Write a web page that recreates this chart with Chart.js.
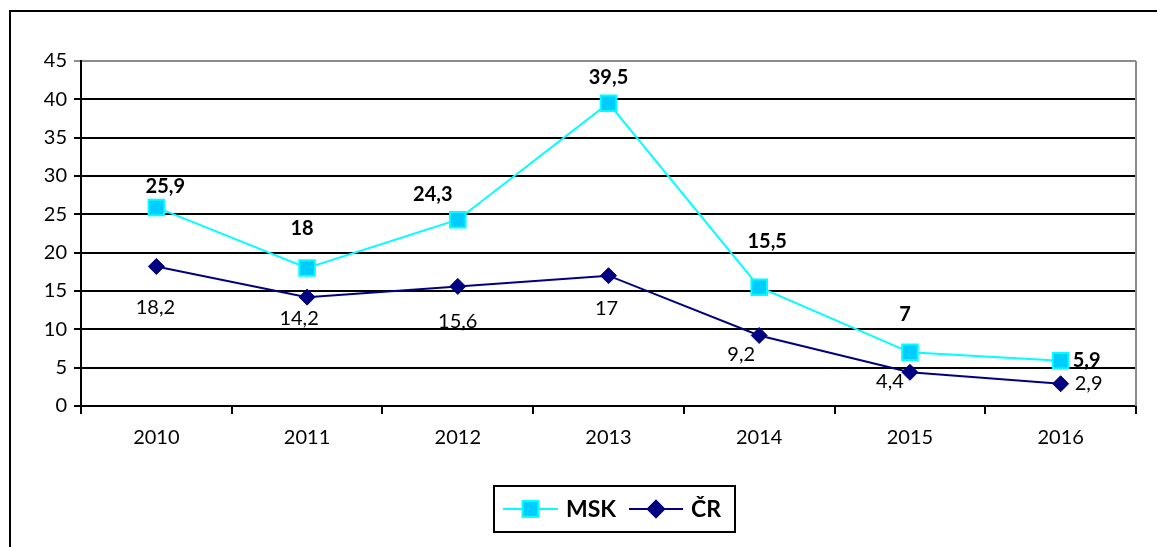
<!DOCTYPE html>
<html>
<head>
<meta charset="utf-8">
<script src="https://cdn.jsdelivr.net/npm/chart.js@4/dist/chart.umd.min.js"></script>
<style>
  html, body { margin: 0; padding: 0; background: #fff; }
  #wrap { width: 1157px; height: 547px; }
</style>
</head>
<body>
<div id="wrap"><canvas id="chart" width="1157" height="547"></canvas></div>
<script>
// Data
const years = ['2010', '2011', '2012', '2013', '2014', '2015', '2016'];
const mskValues = [25.9, 18, 24.3, 39.5, 15.5, 7, 5.9];
const crValues = [18.2, 14.2, 15.6, 17, 9.2, 4.4, 2.9];
const seriesNames = ['MSK', 'ČR'];

// Label placement (pixel nudges from each point)
const mskLabelOffsets = [[9, -21], [-5, -39], [-25, -25], [0, -26], [8, -46], [-5, -38], [26, 0]];
const crLabelOffsets = [[-1, 41], [-8, 21], [0, 35], [-2, 33], [-18, 19], [-20, 9], [28, 0]];

const FONT = 'Lato, "Open Sans", sans-serif';

function fmt(v) {
    return String(v).replace('.', ',');
}

// Outer frame, plot border, point labels and legend
const decorPlugin = {
    id: 'decor',
    beforeDraw(chart) {
        const ctx = chart.ctx;
        ctx.save();
        ctx.fillStyle = '#fff';
        ctx.fillRect(0, 0, chart.width, chart.height);
        ctx.strokeStyle = '#000';
        ctx.lineWidth = 2;
        ctx.strokeRect(10, 11, 1300, 700);
        ctx.restore();
    },
    afterDatasetsDraw(chart) {
        const ctx = chart.ctx;
        const area = chart.chartArea;
        ctx.save();
        // right edge of plot area
        ctx.strokeStyle = '#8c8c8c';
        ctx.lineWidth = 2;
        ctx.beginPath();
        ctx.moveTo(area.right, area.top);
        ctx.lineTo(area.right, area.bottom);
        ctx.stroke();

        // point labels
        ctx.textAlign = 'center';
        ctx.textBaseline = 'middle';
        ctx.fillStyle = '#000';
        const offs = [mskLabelOffsets, crLabelOffsets];
        chart.data.datasets.forEach((ds, di) => {
            ctx.font = (di === 0 ? 'bold ' : '') + '20px ' + FONT;
            chart.getDatasetMeta(di).data.forEach((pt, i) => {
                const o = offs[di][i];
                ctx.fillText(fmt(ds.data[i]), pt.x + o[0], pt.y + o[1]);
            });
        });

        // legend
        const lx = 494, ly = 486, lw = 241, lh = 46;
        ctx.strokeStyle = '#000';
        ctx.lineWidth = 2;
        ctx.strokeRect(lx, ly, lw, lh);
        const cy = ly + lh / 2;
        const items = [
            { x0: 503, x1: 558, tx: 566 },
            { x0: 629, x1: 683, tx: 691 }
        ];
        ctx.textAlign = 'left';
        ctx.font = 'bold 23px ' + FONT;
        chart.data.datasets.forEach((ds, di) => {
            const it = items[di];
            ctx.strokeStyle = ds.borderColor;
            ctx.lineWidth = 2;
            ctx.beginPath();
            ctx.moveTo(it.x0, cy);
            ctx.lineTo(it.x1, cy);
            ctx.stroke();
            Chart.helpers.drawPoint(ctx, {
                pointStyle: ds.pointStyle,
                radius: ds.pointRadius,
                borderWidth: ds.pointBorderWidth
            }, (it.x0 + it.x1) / 2, cy);
            ctx.fillStyle = ds.pointBackgroundColor;
            ctx.strokeStyle = ds.pointBorderColor;
            ctx.fill();
            ctx.stroke();
            ctx.fillStyle = '#000';
            ctx.fillText(seriesNames[di], it.tx, cy + 1);
        });
        ctx.restore();
    }
};

const ctx = document.getElementById('chart').getContext('2d');
new Chart(ctx, {
    type: 'line',
    data: {
        labels: years,
        datasets: [{
            label: seriesNames[0],
            data: mskValues,
            borderColor: '#00ffff',
            borderWidth: 2,
            pointStyle: 'rect',
            pointRadius: 11,
            pointBackgroundColor: '#00ccff',
            pointBorderColor: '#00ffff',
            pointBorderWidth: 2,
            tension: 0
        }, {
            label: seriesNames[1],
            data: crValues,
            borderColor: '#000080',
            borderWidth: 2,
            pointStyle: 'rectRot',
            pointRadius: 8,
            pointBackgroundColor: '#000080',
            pointBorderColor: '#000080',
            pointBorderWidth: 1,
            tension: 0
        }]
    },
    options: {
        responsive: false,
        animation: false,
        layout: { padding: { left: 0, top: 61, right: 21, bottom: 91 } },
        plugins: {
            legend: { display: false },
            tooltip: { enabled: false }
        },
        scales: {
            x: {
                offset: true,
                afterFit: s => { s.height = 50; },
                grid: {
                    offset: true,
                    drawOnChartArea: false,
                    color: '#000',
                    lineWidth: 2,
                    tickLength: 8
                },
                border: { color: '#000', width: 2 },
                ticks: {
                    color: '#000',
                    font: { family: FONT, size: 20 },
                    padding: 12,
                    maxRotation: 0
                }
            },
            y: {
                min: 0,
                max: 45,
                afterFit: s => { s.width = 81; },
                grid: {
                    color: c => c.tick && c.tick.value === 45 ? '#8c8c8c' : '#000',
                    lineWidth: 2,
                    tickLength: 7
                },
                border: { color: '#000', width: 2 },
                ticks: {
                    stepSize: 5,
                    color: '#000',
                    font: { family: FONT, size: 20 },
                    padding: 7
                }
            }
        }
    },
    plugins: [decorPlugin]
});
</script>
</body>
</html>
